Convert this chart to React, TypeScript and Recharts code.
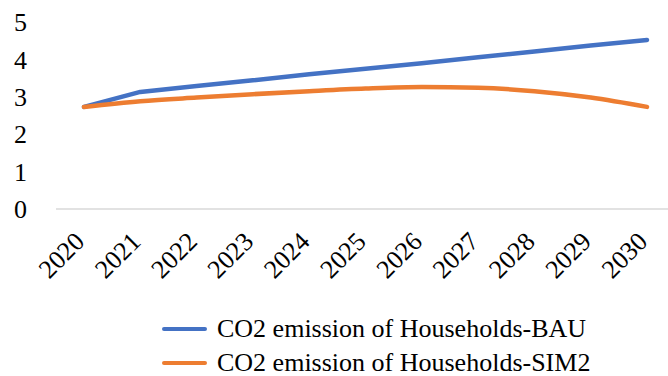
import { Legend, Line, LineChart, XAxis, YAxis } from "recharts";

const years = ["2020", "2021", "2022", "2023", "2024", "2025", "2026", "2027", "2028", "2029", "2030"];
const bau = [2.73, 3.13, 3.29, 3.44, 3.6, 3.75, 3.9, 4.06, 4.21, 4.37, 4.52];
const sim2 = [2.73, 2.88, 2.98, 3.07, 3.15, 3.22, 3.26, 3.24, 3.15, 2.98, 2.73];
const yTicks = [0, 1, 2, 3, 4, 5];

const seriesNames = {
  bau: "CO2 emission of Households-BAU",
  sim2: "CO2 emission of Households-SIM2",
};

const FONT = '"Liberation Serif", "Times New Roman", serif';
const BLUE = "#4472C4";
const ORANGE = "#ED7D31";

const data = years.map((year, i) => ({ year, bau: bau[i], sim2: sim2[i] }));

const tickText = { fontFamily: FONT, fontSize: 26, fill: "#000" };

function YearTick({ x, y, payload }: any) {
  const tx = x + 2;
  const ty = y + 34;
  return (
    <text x={tx} y={ty} transform={`rotate(-45, ${tx}, ${ty})`} textAnchor="end" style={tickText}>
      {payload.value}
    </text>
  );
}

function ValueTick({ y, payload }: any) {
  return (
    <text x={27} y={y} dy="0.35em" textAnchor="end" style={tickText}>
      {payload.value}
    </text>
  );
}

function LegendBox({ payload }: any) {
  return (
    <div style={{ paddingLeft: 162, fontFamily: FONT, fontSize: 26, color: "#000" }}>
      {(payload ?? []).map((entry: any) => (
        <div key={entry.dataKey} style={{ display: "flex", alignItems: "center", height: 34 }}>
          <span
            style={{
              display: "inline-block",
              width: 45,
              height: 4,
              borderRadius: 2,
              background: entry.color,
              marginRight: 10,
            }}
          />
          <span>{entry.value}</span>
        </div>
      ))}
    </div>
  );
}

export default function App() {
  return (
    <div style={{ position: "absolute", left: 0, top: 0, background: "#fff" }}>
      <LineChart width={668} height={376} data={data} margin={{ top: 22, right: 0, bottom: 87, left: 0 }}>
        <XAxis
          dataKey="year"
          stroke="#D9D9D9"
          strokeWidth={1.5}
          tickLine={false}
          tickSize={0}
          tickMargin={0}
          height={80}
          interval={0}
          padding={{ left: 28, right: 21 }}
          tick={<YearTick />}
        />
        <YAxis
          domain={[0, 5]}
          ticks={yTicks}
          width={56}
          axisLine={false}
          tickLine={false}
          tick={<ValueTick />}
        />
        <Legend
          layout="vertical"
          align="center"
          verticalAlign="middle"
          wrapperStyle={{ top: 312, left: 0, width: 668 }}
          content={<LegendBox />}
        />
        <Line
          type="linear"
          dataKey="bau"
          name={seriesNames.bau}
          stroke={BLUE}
          strokeWidth={4.5}
          strokeLinecap="round"
          strokeLinejoin="round"
          dot={false}
          isAnimationActive={false}
        />
        <Line
          type="monotone"
          dataKey="sim2"
          name={seriesNames.sim2}
          stroke={ORANGE}
          strokeWidth={4.5}
          strokeLinecap="round"
          dot={false}
          isAnimationActive={false}
        />
      </LineChart>
    </div>
  );
}
